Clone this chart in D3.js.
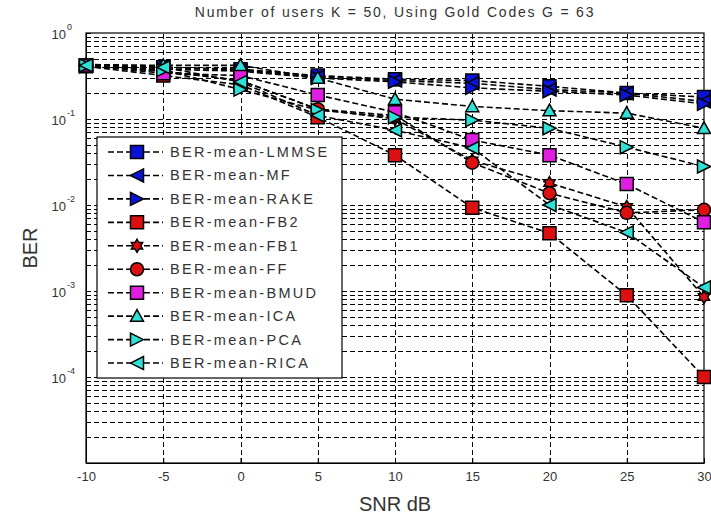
<!DOCTYPE html>
<html>
<head>
<meta charset="utf-8">
<title>BER vs SNR</title>
<script src="https://cdn.jsdelivr.net/npm/d3@7"></script>
<style>
  body { margin: 0; background: #fff; }
  svg { display: block; font-family: Arial, "Liberation Sans", sans-serif; }
</style>
</head>
<body>
<div id="chart"></div>
<script>
// x values (SNR in dB)
const snr = [-10, -5, 0, 5, 10, 15, 20, 25, 30];

// BER per detector
const berLMMSE = [0.42, 0.40, 0.38, 0.32, 0.29, 0.28, 0.24, 0.20, 0.18];
const berMF    = [0.42, 0.40, 0.37, 0.31, 0.28, 0.26, 0.22, 0.20, 0.16];
const berRAKE  = [0.41, 0.38, 0.36, 0.30, 0.27, 0.23, 0.21, 0.19, 0.15];
const berFB2   = [0.41, 0.32, 0.25, 0.105, 0.038, 0.0093, 0.0047, 0.00089, 0.0001];
const berFB1   = [0.42, 0.36, 0.28, 0.13, 0.10, 0.033, 0.018, 0.0095, 0.00085];
const berFF    = [0.42, 0.36, 0.28, 0.13, 0.11, 0.031, 0.0137, 0.0081, 0.0088];
const berBMUD  = [0.42, 0.34, 0.32, 0.19, 0.12, 0.057, 0.038, 0.0175, 0.0063];
const berICA   = [0.43, 0.42, 0.42, 0.30, 0.17, 0.14, 0.125, 0.117, 0.078];
const berPCA   = [0.42, 0.37, 0.22, 0.127, 0.105, 0.097, 0.078, 0.047, 0.028];
const berRICA  = [0.42, 0.40, 0.27, 0.11, 0.074, 0.046, 0.010, 0.0048, 0.0011];

const seriesNames = ["BER-mean-LMMSE", "BER-mean-MF", "BER-mean-RAKE", "BER-mean-FB2", "BER-mean-FB1",
                     "BER-mean-FF", "BER-mean-BMUD", "BER-mean-ICA", "BER-mean-PCA", "BER-mean-RICA"];
const seriesValues = [berLMMSE, berMF, berRAKE, berFB2, berFB1, berFF, berBMUD, berICA, berPCA, berRICA];
const seriesMarkers = ["square", "left", "right", "square", "hexagram", "circle", "square", "up", "right", "left"];
const seriesColors = ["#0a14d8", "#0a14d8", "#0a14d8", "#dc1010", "#dc1010", "#dc1010", "#e01ee0", "#2ee0d6", "#2ee0d6", "#2ee0d6"];

const yMajor = [1e-5, 1e-4, 1e-3, 1e-2, 1e-1, 1];
const xTicks = [-10, -5, 0, 5, 10, 15, 20, 25, 30];

const titleText = "Number of users K = 50, Using Gold Codes G = 63";

const W = 711, H = 517;
const margin = {top: 33, right: 7, bottom: 54, left: 86};

const svg = d3.select("#chart").append("svg")
  .attr("width", W).attr("height", H);

const x = d3.scaleLinear().domain([-10, 30]).range([margin.left, W - margin.right]);
const y = d3.scaleLog().domain([1e-5, 1]).range([H - margin.bottom, margin.top]);

// grid
const grid = svg.append("g").attr("stroke", "#000").attr("stroke-width", 1)
  .attr("stroke-dasharray", "5,3").attr("fill", "none");
grid.selectAll(".hg").data(y.ticks().filter(v => v > 1e-5 && v < 1))
  .join("line").attr("class", "hg")
  .attr("x1", x.range()[0]).attr("x2", x.range()[1])
  .attr("y1", d => Math.round(y(d)) + 0.5).attr("y2", d => Math.round(y(d)) + 0.5);
grid.selectAll(".vg").data(xTicks.slice(1, -1))
  .join("line").attr("class", "vg")
  .attr("y1", y.range()[0]).attr("y2", y.range()[1])
  .attr("x1", d => Math.round(x(d)) + 0.5).attr("x2", d => Math.round(x(d)) + 0.5);

// axes
const tickColor = "#333";
const xAxis = svg.append("g")
  .attr("transform", `translate(0,${y.range()[0]})`)
  .call(d3.axisBottom(x).tickValues(xTicks).tickFormat(d => String(d))
    .tickSizeInner(-5).tickSizeOuter(0).tickPadding(9));
xAxis.selectAll("text").attr("font-size", 13).attr("fill", tickColor)
  .attr("font-family", "Arial, 'Liberation Sans', sans-serif");

const yAxis = svg.append("g")
  .attr("transform", `translate(${x.range()[0]},0)`)
  .call(d3.axisLeft(y).tickValues(yMajor.filter(v => v > 1e-5)).tickSizeInner(-5).tickSizeOuter(0).tickFormat(""));
yAxis.selectAll(".tick").each(function(d) {
  const g = d3.select(this);
  const e = Math.round(Math.log10(d));
  g.append("text").attr("x", -20).attr("y", 5).attr("text-anchor", "end")
    .attr("font-size", 13).attr("fill", tickColor).text("10");
  g.append("text").attr("x", -19).attr("y", -4).attr("text-anchor", "start")
    .attr("font-size", 9).attr("fill", tickColor).text(e);
});
svg.selectAll(".domain").attr("stroke", "#000");

// box
svg.append("rect")
  .attr("x", x.range()[0]).attr("y", y.range()[1])
  .attr("width", x.range()[1] - x.range()[0]).attr("height", y.range()[0] - y.range()[1])
  .attr("fill", "none").attr("stroke", "#000").attr("stroke-width", 1.2);

function markerPath(type, r) {
  switch (type) {
    case "square": return `M${-r},${-r}H${r}V${r}H${-r}Z`;
    case "circle": return d3.symbol(d3.symbolCircle, Math.PI * r * r)();
    case "left": return `M${-r},0L${r},${-r}L${r},${r}Z`;
    case "right": return `M${r},0L${-r},${-r}L${-r},${r}Z`;
    case "up": return `M0,${-r}L${r},${r * 0.8}L${-r},${r * 0.8}Z`;
    case "hexagram": {
      const pts = [];
      for (let i = 0; i < 12; i++) {
        const a = Math.PI / 6 * i - Math.PI / 2;
        const rr = i % 2 ? r * 0.58 : r;
        pts.push([rr * Math.cos(a), rr * Math.sin(a)]);
      }
      return "M" + pts.map(p => p.join(",")).join("L") + "Z";
    }
  }
}

const line = d3.line().x(d => x(d[0])).y(d => y(d[1]));

// series
seriesNames.forEach((name, i) => {
  const pts = snr.map((s, j) => [s, seriesValues[i][j]]);
  const g = svg.append("g");
  g.append("path").datum(pts)
    .attr("d", line).attr("fill", "none").attr("stroke", "#000")
    .attr("stroke-width", 1.6).attr("stroke-dasharray", "6,3");
  g.selectAll("path.m").data(pts).join("path").attr("class", "m")
    .attr("transform", d => `translate(${x(d[0])},${y(d[1])})`)
    .attr("d", markerPath(seriesMarkers[i], 6.5))
    .attr("fill", seriesColors[i]).attr("stroke", "#000").attr("stroke-width", 1.5);
});

// legend
const lg = svg.append("g");
lg.append("rect").attr("x", 97).attr("y", 137).attr("width", 245).attr("height", 241)
  .attr("fill", "#fff").attr("stroke", "#000").attr("stroke-width", 1.2);
seriesNames.forEach((name, i) => {
  const cy = 152 + i * 23.45;
  lg.append("line").attr("x1", 108).attr("x2", 163).attr("y1", cy).attr("y2", cy)
    .attr("stroke", "#000").attr("stroke-width", 1.6).attr("stroke-dasharray", "6,3");
  lg.append("path").attr("transform", `translate(137,${cy})`)
    .attr("d", markerPath(seriesMarkers[i], 6.5))
    .attr("fill", seriesColors[i]).attr("stroke", "#000").attr("stroke-width", 1.5);
  lg.append("text").attr("x", 170).attr("y", cy + 5)
    .attr("font-size", 14.5).attr("letter-spacing", 2.3).attr("fill", "#333").text(name);
});

// title and axis labels
svg.append("text").attr("x", (x.range()[0] + x.range()[1]) / 2).attr("y", 17)
  .attr("text-anchor", "middle").attr("font-size", 14).attr("letter-spacing", 1.8)
  .attr("fill", "#333").text(titleText);
svg.append("text").attr("x", (x.range()[0] + x.range()[1]) / 2).attr("y", 511)
  .attr("text-anchor", "middle").attr("font-size", 20).attr("fill", "#333").text("SNR dB");
svg.append("text").attr("transform", `translate(37,${(y.range()[0] + y.range()[1]) / 2}) rotate(-90)`)
  .attr("text-anchor", "middle").attr("font-size", 20).attr("fill", "#333").text("BER");
</script>
</body>
</html>
